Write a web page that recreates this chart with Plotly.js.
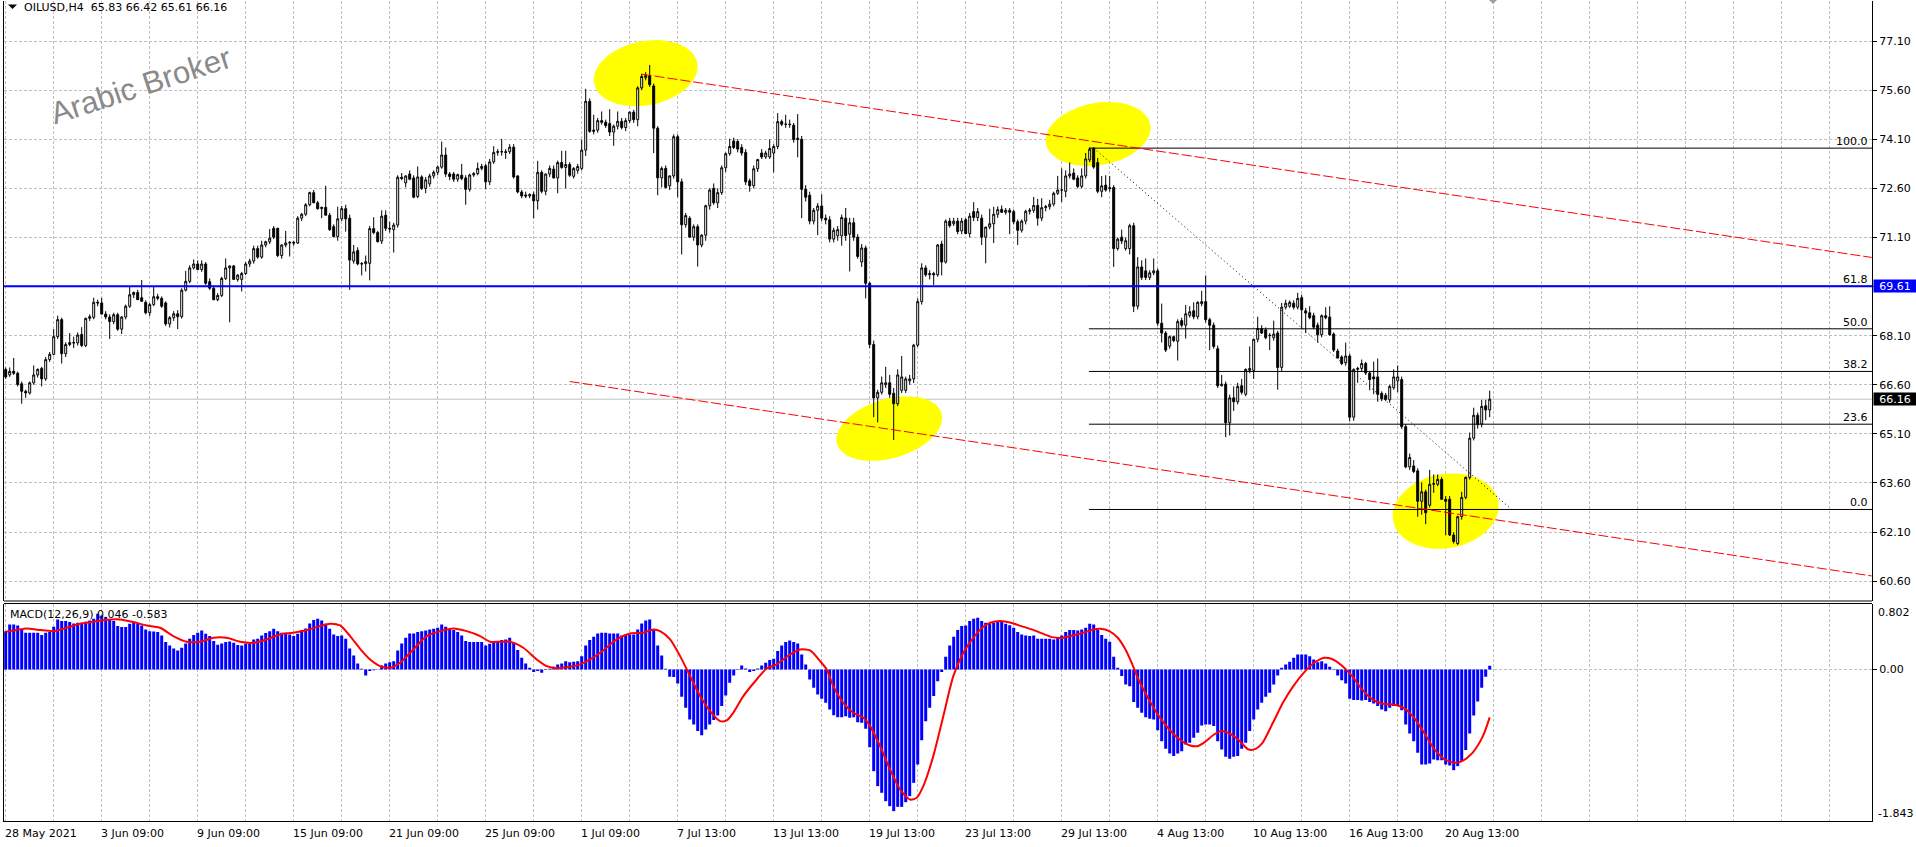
<!DOCTYPE html>
<html><head><meta charset="utf-8">
<script src="https://cdn.plot.ly/plotly-3.0.1.min.js"></script>
<style>html,body{margin:0;padding:0;background:#fff;overflow:hidden}#chart{width:1916px;height:847px}</style>
</head><body><div id="chart"></div>
<script>
// ---------------- DATA (OILUSD H4) ----------------
const openP = [
67.07,66.90,67.01,66.95,66.63,66.40,66.35,66.66,66.90,67.10,
66.78,67.37,67.53,68.07,68.59,67.55,67.83,67.89,67.88,68.14,
67.80,68.63,68.66,69.12,69.10,68.76,68.67,68.53,68.74,68.30,
68.67,69.00,69.35,69.42,69.26,69.12,68.80,69.05,69.29,69.24,
69.10,68.46,68.65,68.77,68.68,69.49,69.76,70.17,70.29,70.12,
70.29,69.75,69.55,69.20,69.33,69.85,70.17,70.23,69.82,69.82,
70.00,70.29,70.38,70.76,70.50,70.87,70.97,71.38,71.38,70.55,
70.87,70.93,70.95,70.93,71.69,71.81,72.10,72.47,72.16,71.98,
72.02,71.78,71.43,71.13,71.67,71.98,71.69,70.38,70.70,70.29,
70.30,70.31,71.37,71.25,70.99,71.78,71.38,71.34,71.48,72.94,
72.77,73.04,72.92,72.35,72.95,72.60,72.74,72.98,73.09,73.25,
73.62,73.04,73.04,72.88,73.00,72.92,72.57,73.01,73.05,73.21,
73.29,72.80,73.41,73.70,73.72,73.72,73.72,73.86,72.98,72.49,
72.40,72.37,72.41,72.22,73.09,72.51,73.04,73.19,72.92,73.39,
73.24,73.33,72.97,73.15,73.21,73.77,75.26,74.34,74.38,74.67,
74.62,74.58,74.32,74.50,74.65,74.46,74.67,74.93,74.70,75.67,
75.98,76.05,75.73,74.44,72.92,73.21,72.68,72.98,74.18,72.80,
71.49,71.69,71.11,71.43,70.87,71.17,72.07,72.60,72.16,72.47,
73.23,73.66,74.05,74.03,73.85,73.70,72.83,72.68,73.20,73.68,
73.56,73.56,73.68,73.88,74.64,74.56,74.56,74.53,74.09,74.10,
72.57,72.39,71.60,71.93,72.06,71.69,71.64,71.05,71.15,71.15,
71.69,71.20,71.55,71.11,70.35,70.78,69.70,67.83,66.20,66.37,
66.60,66.66,66.34,66.02,66.43,66.43,66.72,66.78,67.81,69.14,
70.17,69.96,70.00,69.96,70.90,70.35,71.60,71.52,71.60,71.30,
71.64,71.22,71.89,71.71,71.69,71.11,71.42,71.52,71.81,71.96,
71.87,71.93,71.89,71.58,71.32,71.60,71.90,71.93,72.08,71.69,
72.01,72.04,72.12,72.45,72.55,72.51,72.98,73.07,72.92,72.66,
72.98,73.47,73.83,73.39,72.51,72.70,72.62,72.63,70.76,71.11,
70.76,70.76,71.46,69.00,70.20,70.08,69.88,70.02,70.08,68.48,
68.18,67.78,68.07,67.93,68.56,68.42,68.72,68.86,68.68,69.08,
69.14,68.59,68.42,67.70,66.57,66.62,65.44,66.20,66.08,66.57,
66.31,67.04,67.04,67.99,68.32,68.28,68.10,68.04,68.18,67.13,
68.97,69.00,69.09,68.97,69.26,68.86,68.80,68.71,68.42,68.13,
68.71,68.67,68.15,67.63,67.45,67.27,67.48,65.61,67.07,67.10,
67.25,66.96,66.84,66.84,66.34,66.28,66.14,66.51,66.72,66.76,
65.32,64.09,64.12,63.97,63.04,63.33,62.92,63.56,63.56,63.71,
63.10,63.10,62.01,61.75,62.57,63.16,63.77,64.97,65.67,65.40,
65.96,65.83];
const highP = [
67.13,67.13,67.42,67.00,66.70,66.45,66.70,67.19,67.10,67.15,
67.45,67.60,68.30,68.71,68.65,67.90,68.18,68.07,68.20,68.36,
68.65,68.75,69.26,69.20,69.26,68.85,68.75,68.80,68.80,68.70,
69.05,69.60,69.45,69.50,69.80,69.18,69.10,69.60,69.38,69.30,
69.15,68.70,68.85,68.88,69.55,70.08,70.25,70.43,70.40,70.40,
70.35,69.85,69.62,69.40,69.90,70.46,70.25,70.26,69.98,70.05,
70.35,70.45,70.85,70.85,71.00,71.00,71.36,71.45,71.40,70.90,
71.30,70.99,71.00,71.75,71.85,72.15,72.50,72.55,72.22,72.04,
72.68,71.85,71.50,72.04,72.06,72.10,71.80,70.87,70.80,70.35,
70.55,71.45,71.72,71.30,71.93,71.93,71.58,71.55,73.00,73.07,
73.00,73.15,73.00,73.27,73.00,72.95,73.05,73.15,73.30,74.03,
73.85,73.10,73.10,73.05,73.35,73.00,73.05,73.10,73.39,73.35,
73.35,73.50,73.89,73.80,74.11,73.80,73.95,73.95,73.00,72.55,
72.50,72.45,72.50,73.44,73.15,73.05,73.30,73.30,73.45,73.75,
73.75,73.40,73.25,73.35,74.09,75.64,75.35,74.85,74.75,74.95,
74.70,75.02,74.55,74.95,74.75,74.75,74.95,75.00,75.72,76.10,
76.15,76.37,75.80,74.50,73.27,73.30,73.00,74.25,74.25,72.90,
71.85,71.75,71.50,71.50,71.20,72.10,72.60,72.75,72.60,73.30,
73.70,74.12,74.15,74.10,73.95,73.80,72.90,73.30,73.50,73.80,
73.75,74.10,73.95,74.90,74.70,74.85,74.70,74.60,74.87,74.20,
72.70,72.50,72.00,72.15,72.42,71.80,71.75,71.40,71.45,71.80,
72.00,71.70,71.70,71.20,70.90,70.85,69.75,67.95,66.45,66.85,
67.15,66.90,66.50,67.07,67.48,66.85,66.90,67.85,69.24,70.31,
70.25,70.10,70.05,70.90,71.00,71.65,71.70,71.70,71.70,71.70,
71.70,71.85,72.18,72.00,71.80,71.40,71.98,72.04,72.05,72.08,
72.00,72.00,71.95,71.65,71.65,71.95,72.00,72.34,72.28,72.30,
72.10,72.25,72.50,72.98,73.21,73.15,73.39,73.21,73.00,73.21,
73.68,73.85,73.85,73.53,72.98,73.00,72.98,72.70,71.10,71.34,
71.10,71.52,71.55,70.50,70.40,70.46,70.10,70.46,70.15,69.08,
68.24,68.10,68.10,68.60,68.65,69.04,69.00,69.12,69.15,69.47,
69.94,68.65,68.50,67.80,66.90,66.70,66.30,66.55,66.66,66.78,
67.10,67.77,68.00,68.68,68.42,68.35,68.18,68.56,68.25,69.10,
69.20,69.18,69.18,69.41,69.35,68.95,69.00,68.80,68.50,68.75,
68.97,69.00,68.20,67.70,67.50,67.89,67.55,67.10,67.15,67.37,
67.30,67.00,67.31,67.40,66.40,66.35,66.60,67.07,67.19,66.85,
65.40,64.50,64.30,64.05,63.62,63.40,64.00,63.86,63.86,63.78,
63.20,63.20,62.10,62.60,63.33,63.80,65.14,65.90,65.75,66.14,
66.14,66.42];
const lowP = [
66.78,66.84,66.90,66.55,66.02,66.20,66.30,66.60,66.82,66.55,
66.72,67.30,67.50,68.00,67.25,67.45,67.78,67.72,67.80,67.75,
67.75,68.55,68.60,69.00,68.75,68.60,68.00,68.45,68.25,68.15,
68.60,68.95,69.25,69.20,69.15,68.75,68.70,69.00,69.18,68.95,
68.40,68.35,68.55,68.30,68.62,69.45,69.70,70.12,70.10,70.05,
69.65,69.50,69.18,69.15,69.28,69.80,68.51,69.80,69.75,69.45,
69.95,70.20,70.30,70.45,70.45,70.80,70.90,71.05,70.50,70.45,
70.80,70.52,70.85,70.90,71.60,71.75,72.05,72.15,71.95,71.69,
71.78,71.30,71.10,71.00,71.60,71.28,69.50,70.30,70.25,69.94,
70.06,69.79,71.20,70.95,70.90,71.30,71.25,70.64,71.40,72.85,
72.63,72.85,72.30,72.30,72.55,72.45,72.65,72.90,73.00,73.20,
72.95,72.85,72.80,72.80,72.85,72.10,72.50,72.95,73.00,73.15,
72.57,72.70,73.35,73.60,73.60,73.50,73.65,72.90,72.45,72.30,
72.30,72.30,71.69,71.95,72.45,72.39,72.95,72.90,72.45,73.20,
72.60,72.95,72.90,73.05,73.15,73.59,74.30,74.25,74.30,74.55,
74.45,74.20,73.90,74.40,74.40,74.35,74.60,74.60,74.50,75.60,
75.90,75.70,73.68,72.39,72.63,72.60,72.55,72.90,72.33,70.58,
71.40,71.10,71.00,70.21,70.80,71.00,71.95,72.10,72.00,72.40,
73.10,73.60,73.80,73.70,73.60,72.70,72.50,72.60,73.10,73.50,
73.50,73.50,73.09,73.80,74.50,74.45,74.45,74.00,73.55,71.69,
72.20,71.50,71.50,71.17,71.60,71.50,70.95,70.95,71.00,70.85,
71.00,70.06,71.00,70.45,70.20,69.24,67.72,65.61,65.45,66.30,
66.50,66.20,64.91,65.95,66.35,66.35,66.60,66.65,67.75,69.05,
69.90,69.82,69.65,69.90,69.94,70.30,71.40,71.45,71.20,71.20,
71.20,71.10,71.60,71.60,70.87,70.31,71.35,70.93,71.70,71.85,
71.80,71.20,71.50,70.87,71.25,71.50,71.80,71.85,71.46,71.60,
71.90,71.95,72.05,72.40,72.18,72.33,72.90,72.85,72.60,72.60,
72.90,73.40,73.20,72.45,72.33,72.50,72.50,70.20,70.70,70.90,
70.70,70.58,68.82,68.90,69.80,69.80,69.80,69.95,68.40,67.89,
67.60,67.70,67.90,67.34,68.35,68.01,68.65,68.60,68.60,69.00,
68.50,67.66,67.70,66.50,66.55,65.00,65.05,65.80,66.00,66.30,
66.25,66.95,66.78,67.90,68.15,67.99,67.66,67.95,66.45,67.00,
68.90,68.95,68.90,68.90,68.30,68.18,68.60,68.30,67.89,68.05,
68.60,68.10,67.60,67.40,67.20,67.20,65.49,65.50,66.66,67.00,
66.90,66.43,66.31,66.08,66.10,66.10,66.05,66.45,66.37,65.25,
64.05,64.00,63.90,62.57,62.63,62.34,62.85,63.30,63.50,63.10,
62.00,61.98,61.75,61.70,62.48,63.10,63.70,64.90,65.26,65.30,
65.52,65.61];
const closeP = [
66.84,67.01,66.95,66.61,66.40,66.35,66.66,66.90,67.07,66.78,
67.37,67.53,68.07,68.59,67.55,67.83,67.89,67.88,68.12,67.80,
68.63,68.68,69.12,69.10,68.76,68.67,68.53,68.74,68.30,68.67,
69.00,69.35,69.42,69.20,69.15,68.80,69.05,69.29,69.24,69.00,
68.46,68.65,68.77,68.68,69.49,69.76,70.17,70.29,70.12,70.29,
69.70,69.55,69.20,69.33,69.85,70.17,70.23,69.82,69.95,70.00,
70.29,70.38,70.76,70.50,70.87,70.97,71.08,71.11,70.55,70.87,
70.93,70.95,70.93,71.69,71.81,72.10,72.47,72.16,71.98,72.02,
71.78,71.34,71.13,71.67,71.98,71.67,70.41,70.66,70.29,70.30,
70.36,71.37,71.25,70.97,71.75,71.38,71.36,71.48,72.94,72.90,
72.98,72.88,72.33,72.95,72.60,72.86,72.98,73.09,73.25,73.62,
73.04,72.96,72.88,73.02,72.90,72.57,73.01,73.05,73.21,73.27,
72.80,73.41,73.70,73.72,73.72,73.70,73.86,72.95,72.49,72.37,
72.37,72.41,72.22,73.09,72.51,73.04,73.21,72.92,73.39,73.24,
73.33,73.00,73.21,73.27,73.77,75.26,74.34,74.38,74.67,74.62,
74.52,74.32,74.50,74.65,74.46,74.67,74.93,74.70,75.67,76.02,
76.05,75.77,74.44,72.92,73.21,72.63,72.98,74.18,72.80,71.49,
71.77,71.11,71.43,70.87,71.17,72.07,72.55,72.16,72.47,73.23,
73.66,73.88,73.85,73.80,73.68,72.80,72.68,73.20,73.48,73.56,
73.68,73.82,73.88,74.64,74.56,74.56,74.55,74.09,74.13,72.57,
72.33,71.60,71.93,72.06,71.69,71.64,71.05,71.32,71.34,71.71,
71.16,71.55,71.11,70.52,70.78,69.70,67.83,66.20,66.37,66.66,
66.66,66.31,66.02,66.90,66.84,66.78,66.78,67.81,69.14,70.17,
69.96,70.00,69.96,70.87,70.35,71.60,71.46,71.60,71.28,71.60,
71.22,71.75,71.71,71.89,71.11,71.42,71.52,71.81,71.95,71.87,
71.93,71.87,71.58,71.32,71.60,71.90,71.93,72.08,71.69,72.01,
72.04,72.12,72.45,72.55,72.55,72.98,73.04,72.88,72.66,72.98,
73.50,73.80,73.25,72.51,72.68,72.55,72.60,70.76,71.05,70.99,
71.00,71.46,69.00,70.20,69.88,69.88,70.02,70.08,68.48,68.18,
67.66,68.07,67.95,68.53,68.42,68.77,68.83,68.68,69.12,69.14,
68.59,68.42,67.77,66.57,66.62,65.44,66.20,66.08,66.55,66.37,
67.07,67.10,67.99,68.32,68.18,68.04,68.11,68.15,67.13,68.97,
69.09,69.12,68.97,69.24,68.89,68.79,68.65,68.36,68.13,68.71,
68.65,68.13,67.66,67.42,67.25,67.48,65.61,67.07,67.10,67.25,
66.96,66.76,66.78,66.31,66.17,66.16,66.55,66.84,66.84,65.32,
64.09,64.38,63.95,63.04,63.33,62.69,63.56,63.58,63.71,63.10,
63.04,62.01,61.81,62.57,63.16,63.77,64.97,65.67,65.38,65.94,
65.83,66.16];
// MACD(12,26,9) main line, one value per bar (drawn as histogram)
const macdMain = [
0.466,0.547,0.547,0.535,0.495,0.446,0.446,0.446,0.446,0.418,
0.446,0.454,0.519,0.608,0.588,0.588,0.576,0.560,0.568,0.568,
0.580,0.596,0.616,0.677,0.657,0.637,0.608,0.588,0.527,0.515,
0.515,0.556,0.576,0.560,0.535,0.487,0.466,0.462,0.454,0.414,
0.333,0.292,0.255,0.231,0.264,0.316,0.373,0.418,0.446,0.474,
0.434,0.406,0.345,0.300,0.316,0.333,0.341,0.324,0.296,0.292,
0.312,0.312,0.365,0.373,0.414,0.442,0.466,0.495,0.466,0.446,
0.446,0.426,0.406,0.434,0.479,0.499,0.560,0.600,0.616,0.596,
0.556,0.495,0.426,0.406,0.414,0.373,0.255,0.170,0.073,0.010,
-0.073,-0.020,-0.010,-0.005,0.049,0.073,0.089,0.101,0.231,0.316,
0.385,0.438,0.438,0.454,0.466,0.474,0.487,0.495,0.507,0.547,
0.519,0.487,0.479,0.454,0.414,0.345,0.333,0.333,0.333,0.333,
0.292,0.312,0.337,0.337,0.357,0.365,0.385,0.324,0.235,0.142,
0.073,0.020,-0.032,-0.020,-0.041,-0.008,0.008,0.032,0.061,0.073,
0.101,0.089,0.093,0.101,0.162,0.292,0.357,0.397,0.438,0.446,
0.446,0.438,0.438,0.438,0.414,0.426,0.426,0.426,0.487,0.560,
0.596,0.608,0.487,0.292,0.170,0.008,-0.089,-0.093,-0.170,-0.333,
-0.466,-0.608,-0.669,-0.750,-0.799,-0.730,-0.669,-0.616,-0.560,-0.446,
-0.316,-0.162,-0.073,-0.008,0.049,0.012,-0.032,-0.020,0.012,0.049,
0.081,0.114,0.130,0.223,0.292,0.333,0.353,0.333,0.316,0.182,
0.061,-0.122,-0.223,-0.304,-0.357,-0.406,-0.487,-0.556,-0.580,-0.580,
-0.568,-0.588,-0.580,-0.641,-0.649,-0.722,-0.945,-1.237,-1.419,-1.500,
-1.602,-1.663,-1.723,-1.671,-1.671,-1.614,-1.541,-1.379,-1.156,-0.860,
-0.629,-0.466,-0.324,-0.142,-0.032,0.154,0.292,0.397,0.479,0.527,
0.535,0.588,0.616,0.629,0.590,0.568,0.560,0.568,0.580,0.576,
0.556,0.539,0.507,0.454,0.426,0.414,0.406,0.414,0.373,0.373,
0.373,0.373,0.365,0.385,0.414,0.454,0.479,0.479,0.474,0.487,
0.507,0.556,0.547,0.479,0.418,0.373,0.337,0.154,0.020,-0.081,
-0.182,-0.203,-0.397,-0.466,-0.527,-0.580,-0.600,-0.608,-0.738,-0.872,
-0.965,-1.022,-1.054,-1.022,-0.994,-0.912,-0.892,-0.831,-0.770,-0.681,
-0.669,-0.669,-0.689,-0.872,-0.973,-1.062,-1.087,-1.062,-1.054,-0.965,
-0.892,-0.750,-0.608,-0.487,-0.406,-0.333,-0.284,-0.182,-0.073,0.020,
0.061,0.093,0.142,0.182,0.182,0.182,0.162,0.122,0.089,0.101,
0.073,0.032,0.005,-0.073,-0.130,-0.170,-0.357,-0.373,-0.373,-0.377,
-0.373,-0.397,-0.414,-0.446,-0.487,-0.507,-0.466,-0.446,-0.446,-0.495,
-0.669,-0.779,-0.872,-1.014,-1.156,-1.156,-1.144,-1.095,-1.103,-1.103,
-1.156,-1.168,-1.225,-1.176,-1.115,-0.981,-0.779,-0.560,-0.389,-0.223,
-0.089,0.046];
// MACD signal line, read at these bar positions
const signalBars = [0,2.75,5.25,8.6,11.9,15.25,18.6,21.9,25.25,28.6,31.9,35.25,38.6,41.9,45.25,48.6,51.9,55.25,58.6,61.9,65.25,68.6,71.9,75.25,78.6,81.1,83.6,86.1,88.6,91.1,93.6,96.1,98.6,101.9,105.25,108.6,111.9,115.25,118.6,121.1,123.6,126.1,129.4,132.75,135.25,137.75,141.1,143.6,146.1,149.4,152.75,156.1,159.4,161.9,163.6,166.1,168.6,171.1,173.6,176.1,178.6,180.25,181.9,184.4,187.75,190.25,192.75,196.1,198.6,201.1,203.6,205.25,206.9,209.4,211.9,214.4,216.1,218.6,221.1,223.6,226.1,227.75,229.4,231.9,234.4,236.9,239.4,241.9,244.4,246.1,248.7,251.3,253.9,256.5,259.1,261.6,264.2,266.8,269.4,272.0,273.7,275.9,278.0,279.7,281.5,283.2,285.8,288.3,290.9,293.5,296.1,297.8,299.5,302.1,303.8,305.6,308.1,310.7,312.5,314.2,316.8,319.3,321.9,324.5,327.1,329.7,331.4,334.0,336.6,339.1,341.7,344.3,346.9,349.5,352.1,354.6,357.2,359.8,362.4,364.1,366.7,369.3,371];
const signalVals = [0.458,0.479,0.499,0.479,0.466,0.507,0.556,0.580,0.604,0.608,0.576,0.535,0.507,0.406,0.337,0.337,0.385,0.385,0.337,0.324,0.365,0.426,0.446,0.479,0.527,0.556,0.535,0.406,0.251,0.122,0.041,0.020,0.081,0.243,0.406,0.466,0.499,0.466,0.406,0.337,0.337,0.337,0.264,0.122,0.041,0.016,0.032,0.061,0.122,0.231,0.365,0.438,0.446,0.487,0.466,0.365,0.162,-0.081,-0.324,-0.507,-0.629,-0.620,-0.527,-0.324,-0.122,0.012,0.061,0.182,0.243,0.231,0.101,0.0,-0.203,-0.406,-0.527,-0.588,-0.689,-0.933,-1.217,-1.460,-1.582,-1.561,-1.419,-1.054,-0.568,-0.081,0.203,0.385,0.519,0.568,0.588,0.568,0.527,0.487,0.438,0.393,0.385,0.414,0.446,0.487,0.495,0.466,0.385,0.264,0.081,-0.122,-0.365,-0.568,-0.730,-0.852,-0.925,-0.933,-0.892,-0.791,-0.750,-0.770,-0.852,-0.973,-0.965,-0.892,-0.649,-0.406,-0.203,-0.041,0.081,0.142,0.130,0.049,-0.081,-0.243,-0.365,-0.418,-0.426,-0.466,-0.588,-0.770,-0.973,-1.095,-1.135,-1.115,-1.014,-0.811,-0.583];
const timeLabelBars = [0,24,48,72,96,120,144,168,192,216,240,264,288,312,336,360];
const timeLabels = ["28 May 2021","3 Jun 09:00","9 Jun 09:00","15 Jun 09:00","21 Jun 09:00","25 Jun 09:00","1 Jul 09:00","7 Jul 13:00","13 Jul 13:00","19 Jul 13:00","23 Jul 13:00","29 Jul 13:00","4 Aug 13:00","10 Aug 13:00","16 Aug 13:00","20 Aug 13:00"];
const priceTicks = [60.60,62.10,63.60,65.10,66.60,68.10,69.60,71.10,72.60,74.10,75.60,77.10];
const fibLevels = [0.0,23.6,38.2,50.0,61.8,100.0];
const fibLow = 62.79, fibHigh = 73.83;
const fibStartBar = 270.8, fibLowBar = 376.5, fibHighBar = 272;
const levelLine = 69.61;
const lastPrice = 66.16;
const channelUpper = {bar0:159, p0:76.09, bar1:466.5, p1:70.49};
const channelLower = {bar0:141, p0:66.70, bar1:466.5, p1:60.76};
// highlight ellipses: centre (bar, price), semi-axes in px, tilt in deg
const ellipses = [
  {bar:160.0, price:76.12, a:52.6, b:32.0, ang:-11.5},
  {bar:273.1, price:74.26, a:53.0, b:31.0, ang:-10.4},
  {bar:220.9, price:65.26, a:54.4, b:29.5, ang:-16.4},
  {bar:360.0, price:62.74, a:53.4, b:37.1, ang:-10.4}
];

// ---------------- LAYOUT GEOMETRY ----------------
const W=1916, H=847, ML=4, MR=44, MT=1, MB=26;
const plotW = W-ML-MR, plotH = H-MT-MB;
const XR = [-0.425, 466.575];
const YR = [59.994, 78.325];
const Y2R = [-1.843, 0.802];
const priceDom = [(H-MB-601)/plotH, 1];
const macdDom = [0, (H-MB-603.5)/plotH];
const pxX = px => (px-ML)/plotW;
const pxY = py => (H-MB-py)/plotH;
const pxPerBar = plotW/(XR[1]-XR[0]);
const pxPerPrice = 600/(YR[1]-YR[0]);
const FONT = 'DejaVu Sans';
const GRID = '#c0c0c0';

const idx = closeP.map((_,i)=>i);

function ellipsePath(e){
  const th = e.ang*Math.PI/180; let d='';
  for(let k=0;k<=72;k++){
    const t=k/72*2*Math.PI;
    const dx=e.a*Math.cos(t)*Math.cos(th)-e.b*Math.sin(t)*Math.sin(th);
    const dy=e.a*Math.cos(t)*Math.sin(th)+e.b*Math.sin(t)*Math.cos(th);
    d+=(k?' L ':'M ')+(e.bar+dx/pxPerBar).toFixed(3)+','+(e.price-dy/pxPerPrice).toFixed(4);
  }
  return d+' Z';
}

const traces = [
  {type:'candlestick', x:idx, open:openP, high:highP, low:lowP, close:closeP,
   xaxis:'x', yaxis:'y', whiskerwidth:0, hoverinfo:'skip', showlegend:false,
   increasing:{line:{color:'#000000',width:1}, fillcolor:'#ffffff'},
   decreasing:{line:{color:'#000000',width:1}, fillcolor:'#000000'}},
  {type:'bar', x:idx, y:macdMain, xaxis:'x', yaxis:'y2', marker:{color:'#0000ff', line:{width:0}},
   hoverinfo:'skip', showlegend:false},
  {type:'scatter', mode:'lines', x:signalBars, y:signalVals, xaxis:'x', yaxis:'y2',
   line:{color:'#ff0000', width:2, shape:'spline', smoothing:0.7}, hoverinfo:'skip', showlegend:false}
];

const shapes = [];
ellipses.forEach(e=>shapes.push({type:'path', xref:'x', yref:'y', path:ellipsePath(e),
  fillcolor:'#ffff00', line:{width:0}, layer:'between'}));
shapes.push({type:'line', xref:'paper', yref:'y', x0:0, x1:1, y0:lastPrice, y1:lastPrice,
  line:{color:'#c0c0c0', width:1}, layer:'between'});
fibLevels.forEach(l=>{
  const p = fibLow + (fibHigh-fibLow)*l/100;
  shapes.push({type:'line', xref:'x', yref:'y', x0:fibStartBar, x1:XR[1], y0:p, y1:p,
    line:{color:'#000000', width:1}, layer:'above'});
});
shapes.push({type:'line', xref:'x', yref:'y', x0:fibHighBar, y0:fibHigh, x1:fibLowBar, y1:fibLow,
  line:{color:'#000000', width:1, dash:'1px,3px'}, layer:'above'});
shapes.push({type:'line', xref:'paper', yref:'y', x0:0, x1:1, y0:levelLine, y1:levelLine,
  line:{color:'#0000ff', width:2}, layer:'above'});
[channelUpper, channelLower].forEach(c=>shapes.push({type:'line', xref:'x', yref:'y',
  x0:c.bar0, y0:c.p0, x1:c.bar1, y1:c.p1, line:{color:'#ff0000', width:1, dash:'10px,3px'}, layer:'above'}));
shapes.push({type:'line', xref:'paper', yref:'paper', x0:0, x1:1, y0:priceDom[0], y1:priceDom[0], line:{color:'#000',width:1}});
shapes.push({type:'line', xref:'paper', yref:'paper', x0:0, x1:1, y0:macdDom[1], y1:macdDom[1], line:{color:'#000',width:1}});
// small markers: title triangle and chart-shift triangle
shapes.push({type:'path', xref:'paper', yref:'paper',
  path:`M ${pxX(8)},${pxY(4.5)} L ${pxX(17)},${pxY(4.5)} L ${pxX(12.5)},${pxY(9)} Z`, fillcolor:'#000', line:{width:0}});
shapes.push({type:'path', xref:'paper', yref:'paper',
  path:`M ${pxX(1489)},${pxY(0)} L ${pxX(1497)},${pxY(0)} L ${pxX(1493)},${pxY(4)} Z`, fillcolor:'#a0a0a0', line:{width:0}});

const ann = [];
timeLabelBars.forEach((b,i)=>ann.push({xref:'x', yref:'paper', x:b, y:pxY(833), text:timeLabels[i],
  showarrow:false, xanchor:'left', yanchor:'middle', xshift:-3, font:{family:FONT,size:11,color:'#000'}}));
ann.push({xref:'paper', yref:'paper', x:pxX(22), y:pxY(7.5), xanchor:'left', yanchor:'middle', showarrow:false,
  text:'OILUSD,H4\u00a0\u00a0'+[openP[371],highP[371],lowP[371],closeP[371]].map(v=>v.toFixed(2)).join(' '),
  font:{family:FONT,size:11,color:'#000'}});
ann.push({xref:'paper', yref:'paper', x:pxX(8), y:pxY(614), xanchor:'left', yanchor:'middle', showarrow:false,
  text:'MACD(12,26,9) '+macdMain[371].toFixed(3)+' '+signalVals[signalVals.length-1].toFixed(3),
  font:{family:FONT,size:11,color:'#000'}});
ann.push({xref:'paper', yref:'paper', x:pxX(141), y:pxY(86), xanchor:'center', yanchor:'middle', showarrow:false,
  text:'Arabic Broker', textangle:-18, font:{family:'Liberation Sans',size:31,color:'#8a8a8a'}});
fibLevels.forEach(l=>{
  const p = fibLow + (fibHigh-fibLow)*l/100;
  ann.push({xref:'paper', yref:'y', x:pxX(1870), y:p, xanchor:'right', yanchor:'bottom', showarrow:false,
    text:l.toFixed(1), yshift:-2, font:{family:FONT,size:11,color:'#000'}});
});
[[levelLine,'#0000ff'],[lastPrice,'#000000']].forEach(([v,c])=>ann.push({xref:'paper', yref:'y', x:1, y:v,
  xanchor:'left', yanchor:'middle', xshift:1, showarrow:false, text:v.toFixed(2), bgcolor:c, borderpad:0,
  width:42, height:12, font:{family:FONT,size:11,color:'#ffffff'}}));
[[Y2R[1],612],[Y2R[0],813]].forEach(([v,py])=>ann.push({xref:'paper', yref:'paper', x:1, y:pxY(py),
  xanchor:'left', yanchor:'middle', xshift:4, showarrow:false, text:v.toFixed(3), font:{family:FONT,size:11,color:'#000'}}));

const layout = {
  width:W, height:H, margin:{l:ML, r:MR, t:MT, b:MB, pad:0},
  paper_bgcolor:'#ffffff', plot_bgcolor:'#ffffff', showlegend:false,
  font:{family:FONT, size:11, color:'#000'},
  bargap:0.25, boxgap:0.3, dragmode:false, hovermode:false,
  xaxis:{domain:[0,1], anchor:'y2', range:XR, tickmode:'linear', tick0:0, dtick:12, showticklabels:false,
    ticks:'', showgrid:true, gridcolor:GRID, gridwidth:1, griddash:'3px,2px', zeroline:false,
    showline:true, linecolor:'#000', linewidth:1, rangeslider:{visible:false}, fixedrange:true},
  yaxis:{domain:priceDom, anchor:'x', side:'right', range:YR, tickmode:'array', tickvals:priceTicks,
    ticktext:priceTicks.map(v=>Math.abs(v-levelLine)<0.05?'':v.toFixed(2)), ticks:'outside', ticklen:4,
    tickcolor:'#000', showgrid:true, gridcolor:GRID, gridwidth:1, griddash:'3px,2px', zeroline:false,
    showline:true, mirror:true, linecolor:'#000', linewidth:1, automargin:false, fixedrange:true,
    tickfont:{family:FONT,size:11,color:'#000'}},
  yaxis2:{domain:macdDom, anchor:'x', side:'right', range:Y2R, tickmode:'array', tickvals:[0], ticktext:['0.00'],
    ticks:'outside', ticklen:4, tickcolor:'#000', showgrid:true, gridcolor:GRID, gridwidth:1, griddash:'3px,2px',
    zeroline:false, showline:true, mirror:true, linecolor:'#000', linewidth:1, automargin:false, fixedrange:true,
    tickfont:{family:FONT,size:11,color:'#000'}},
  shapes:shapes, annotations:ann
};
Plotly.newPlot('chart', traces, layout, {staticPlot:true, displayModeBar:false});
</script></body></html>
